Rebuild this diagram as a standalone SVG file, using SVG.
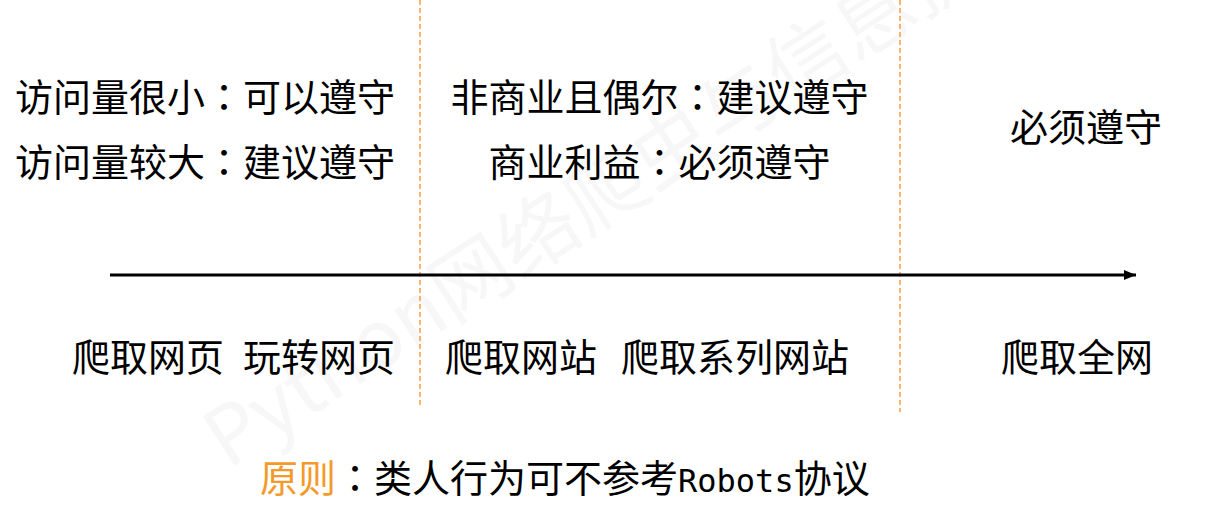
<svg xmlns="http://www.w3.org/2000/svg" width="1224" height="509" viewBox="0 0 1224 509">
<style>
.t{font-family:"Noto Sans CJK SC","Noto Sans",sans-serif;font-size:38px;fill:#000;text-anchor:middle}
.c{font-family:"Noto Sans CJK JP","Noto Sans CJK TC",sans-serif}
.div{stroke:#f4a24a;stroke-width:1.6;stroke-dasharray:5 3;fill:none}
.wm{font-family:"Noto Sans CJK SC","Noto Sans",sans-serif;font-size:80px;fill:#f7f7f7}
</style>
<defs>
<marker id="arr" markerWidth="14" markerHeight="12" refX="12" refY="5" orient="auto" markerUnits="userSpaceOnUse">
<path d="M0,0 L12,5 L0,10 Z" fill="#000"/>
</marker>
</defs>
<rect width="1224" height="509" fill="#fff"/>
<text class="wm" transform="translate(228,470) rotate(-33)">Python网络爬虫与信息提取</text>
<g id="dividers">
<line class="div" x1="420" y1="0" x2="420" y2="405"/>
<line class="div" x1="900" y1="0" x2="900" y2="412"/>
</g>
<g id="connectors">
<line x1="110" y1="275" x2="1136" y2="275" stroke="#000" stroke-width="3" marker-end="url(#arr)"/>
</g>
<g id="zone1">
<text class="t" x="205" y="111">访问量很小<tspan class="c">：</tspan>可以遵守</text>
<text class="t" x="205" y="176">访问量较大<tspan class="c">：</tspan>建议遵守</text>
</g>
<g id="zone2">
<text class="t" x="659.5" y="111">非商业且偶尔<tspan class="c">：</tspan>建议遵守</text>
<text class="t" x="659.5" y="176">商业利益<tspan class="c">：</tspan>必须遵守</text>
</g>
<g id="zone3">
<text class="t" x="1086" y="141">必须遵守</text>
</g>
<g id="labels">
<text class="t" x="148" y="371">爬取网页</text>
<text class="t" x="319" y="371">玩转网页</text>
<text class="t" x="521" y="371">爬取网站</text>
<text class="t" x="735" y="371">爬取系列网站</text>
<text class="t" x="1077" y="371">爬取全网</text>
</g>
<g id="principle">
<text class="t" x="260" y="492" style="text-anchor:start"><tspan fill="#f39a2b">原则</tspan><tspan class="c">：</tspan>类人行为可不参考<tspan style="font-family:'DejaVu Sans Mono',monospace;font-size:32px">Robots</tspan>协议</text>
</g>
</svg>
